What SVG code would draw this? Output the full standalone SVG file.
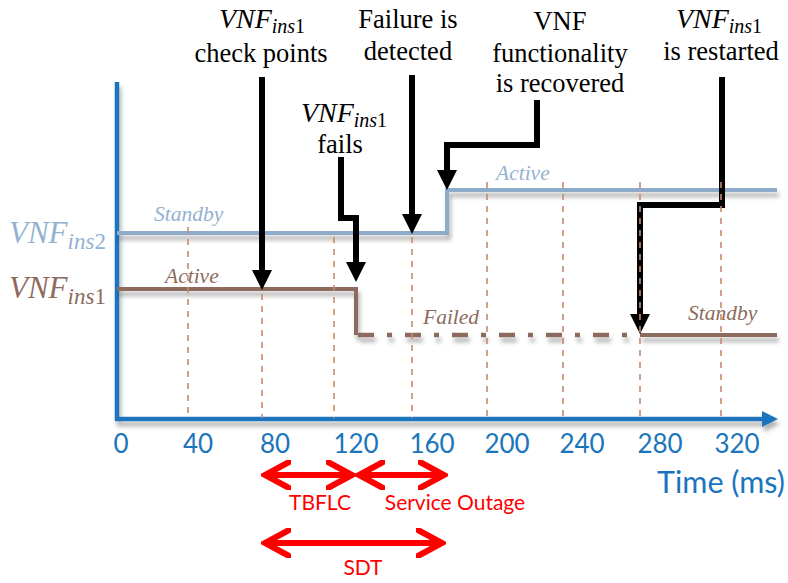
<svg xmlns="http://www.w3.org/2000/svg" width="788" height="583" viewBox="0 0 788 583">
  <defs>
    <filter id="shadow" x="-5%" y="-50%" width="110%" height="250%">
      <feDropShadow dx="2" dy="5" stdDeviation="2.2" flood-color="#000" flood-opacity="0.3"/>
    </filter>
    <marker id="chev" viewBox="0 0 30 30" refX="27" refY="15" markerWidth="30" markerHeight="30" markerUnits="userSpaceOnUse" orient="auto-start-reverse">
      <path d="M2 2 L26 15 L2 28" fill="none" stroke="#ff0000" stroke-width="6" stroke-linecap="round" stroke-linejoin="miter"/>
    </marker>
  </defs>
  <style>
    .serif { font-family: "Liberation Serif", "Times New Roman", serif; fill: #000; font-size: 26.5px; }
    .math { font-family: "Liberation Serif", "Times New Roman", serif; font-style: italic; }
    .up { font-style: normal; }
    .axis { font-family: Lato, "Open Sans", sans-serif; fill: #1b75bc; font-size: 26px; }
    .axis-title { font-family: Lato, "Open Sans", sans-serif; fill: #1b75bc; font-size: 30.5px; }
    .red { font-family: Lato, "Open Sans", sans-serif; fill: #ff0000; font-size: 21px; }
    .state { font-family: "Liberation Serif", "Times New Roman", serif; font-style: italic; font-size: 21.5px; }
    .blueTxt { fill: #93b2d0; }
    .brownTxt { fill: #8c6b5d; }
    .grid { stroke: #c98a6c; stroke-width: 1.6; stroke-dasharray: 6 6; fill: none; }
    .conn { fill: none; stroke: #000; stroke-width: 6; stroke-linejoin: miter; }
    .head { fill: #000; }
    .span { fill: none; stroke: #ff0000; stroke-width: 6; }
  </style>

  <!-- axes -->
  <g id="axes" filter="url(#shadow)">
    <path d="M117 82 V419 H764" fill="none" stroke="#1b75bc" stroke-width="4.5"/>
    <polygon points="762,411 778,419 762,427" fill="#1b75bc"/>
  </g>

  <!-- instance state lines -->
  <g id="ins2-line" filter="url(#shadow)">
    <path d="M117 233 H447 V190 H777" fill="none" stroke="#8eabc9" stroke-width="4"/>
  </g>
  <g id="ins1-line" filter="url(#shadow)">
    <path d="M117 289 H356 V335" fill="none" stroke="#8c6b5d" stroke-width="4"/>
    <path d="M358 335 H638" fill="none" stroke="#8c6b5d" stroke-width="4.5" stroke-dasharray="16 13 5 13"/>
    <path d="M640 335 H777" fill="none" stroke="#8c6b5d" stroke-width="4"/>
  </g>

  <!-- state labels -->
  <g id="state-labels">
    <text class="state blueTxt" x="154" y="221">Standby</text>
    <text class="state brownTxt" x="165" y="283">Active</text>
    <text class="state blueTxt" x="496" y="180">Active</text>
    <text class="state brownTxt" x="423" y="324">Failed</text>
    <text class="state brownTxt" x="688" y="320">Standby</text>
  </g>

  <!-- y-axis instance names -->
  <g id="ins2-name">
    <text class="math" x="9" y="243" font-size="31" fill="#93b2d0">VNF<tspan font-size="23" dy="6">ins</tspan><tspan class="up" font-size="23">2</tspan></text>
  </g>
  <g id="ins1-name">
    <text class="math" x="9" y="298" font-size="31" fill="#8c6b5d">VNF<tspan font-size="23" dy="6">ins</tspan><tspan class="up" font-size="23">1</tspan></text>
  </g>

  <!-- event connectors -->
  <g id="connectors">
    <path class="conn" d="M262 77 V270"/>
    <polygon class="head" points="252,270 272,270 262,290"/>
    <path class="conn" d="M341 157 V218 H356 V262"/>
    <polygon class="head" points="346,262 366,262 356,282"/>
    <path class="conn" d="M412 75 V214"/>
    <polygon class="head" points="402,214 422,214 412,234"/>
    <path class="conn" d="M537 100 V145 H447 V170"/>
    <polygon class="head" points="437,170 457,170 447,190"/>
    <path class="conn" d="M722 77 V205 H640 V314"/>
    <polygon class="head" points="630,314 650,314 640,334"/>
  </g>

  <!-- time grid -->
  <g id="grid">
    <path class="grid" d="M188 227 V418"/>
    <path class="grid" d="M262 294 V418"/>
    <path class="grid" d="M334 237 V418"/>
    <path class="grid" d="M412 237 V418"/>
    <path class="grid" d="M487 182 V418"/>
    <path class="grid" d="M563 182 V418"/>
    <path class="grid" d="M640 182 V418"/>
    <path class="grid" d="M721 182 V418"/>
  </g>

  <!-- event labels -->
  <g id="label-checkpoints">
    <text class="math" x="262" y="28" text-anchor="middle" font-size="28">VNF<tspan font-size="20" dy="5">ins</tspan><tspan class="up" font-size="20">1</tspan></text>
    <text class="serif" x="261" y="62" text-anchor="middle">check points</text>
  </g>
  <g id="label-fails">
    <text class="math" x="344" y="122" text-anchor="middle" font-size="28">VNF<tspan font-size="20" dy="5">ins</tspan><tspan class="up" font-size="20">1</tspan></text>
    <text class="serif" x="340" y="153" text-anchor="middle">fails</text>
  </g>
  <g id="label-detected">
    <text class="serif" x="408" y="28" text-anchor="middle">Failure is</text>
    <text class="serif" x="408" y="60" text-anchor="middle">detected</text>
  </g>
  <g id="label-recovered">
    <text class="serif" x="560" y="30" text-anchor="middle">VNF</text>
    <text class="serif" x="560" y="62" text-anchor="middle">functionality</text>
    <text class="serif" x="560" y="92" text-anchor="middle">is recovered</text>
  </g>
  <g id="label-restarted">
    <text class="math" x="719" y="28" text-anchor="middle" font-size="28">VNF<tspan font-size="20" dy="5">ins</tspan><tspan class="up" font-size="20">1</tspan></text>
    <text class="serif" x="721" y="60" text-anchor="middle">is restarted</text>
  </g>

  <!-- time axis labels -->
  <g id="ticks" class="axis" text-anchor="middle">
    <text x="121" y="453">0</text>
    <text x="198" y="453">40</text>
    <text x="275" y="453">80</text>
    <text x="356" y="453">120</text>
    <text x="432" y="453">160</text>
    <text x="507" y="453">200</text>
    <text x="582" y="453">240</text>
    <text x="660" y="453">280</text>
    <text x="737" y="453">320</text>
  </g>
  <text class="axis-title" x="785" y="493" text-anchor="end">Time (ms)</text>

  <!-- intervals -->
  <g id="tbflc">
    <path class="span" d="M264 475 H353" marker-start="url(#chev)" marker-end="url(#chev)"/>
    <text class="red" x="320" y="510" text-anchor="middle">TBFLC</text>
  </g>
  <g id="outage">
    <path class="span" d="M358 475 H445" marker-start="url(#chev)" marker-end="url(#chev)"/>
    <text class="red" x="455" y="510" text-anchor="middle">Service Outage</text>
  </g>
  <g id="sdt">
    <path class="span" d="M264 543 H443" marker-start="url(#chev)" marker-end="url(#chev)"/>
    <text class="red" x="363" y="575" text-anchor="middle">SDT</text>
  </g>
</svg>
